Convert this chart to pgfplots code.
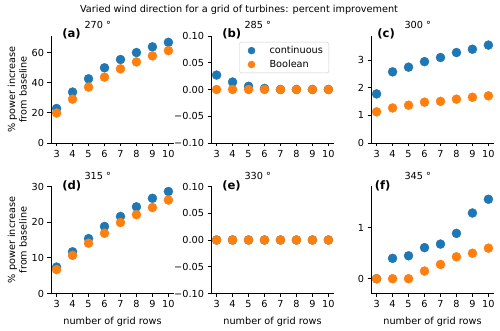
\documentclass[border=0pt]{standalone}
\usepackage{fontspec}
\setmainfont{DejaVu Sans}
\usepackage{pgfplots}
\pgfplotsset{compat=1.18}
\definecolor{mblue}{HTML}{1F77B4}
\definecolor{morange}{HTML}{FF7F0E}
\newcommand{\fs}{\fontsize{9.7}{11.6}\selectfont}
\newcommand{\lab}{\fontsize{11.6}{13}\selectfont\bfseries}

\pgfplotsset{
  panel/.style={
    scale only axis, width=123pt, height=107pt, anchor=south west,
    axis lines=left, axis line style={-, line width=0.8pt, black},
    xmin=2.65, xmax=10.35, xtick={3,...,10},
    tick align=outside, major tick length=3.5pt,
    tick style={line width=0.8pt, black},
    ticklabel style={font=\fs},
    /pgf/number format/assume math mode=true,
    label style={font=\fs},
    xlabel style={yshift=-2pt},
    ylabel style={align=center, yshift=-2pt},
    title style={at={(0.38,1)}, anchor=base, yshift=1pt, font=\fs},
    clip=false,
  },
  cont/.style={only marks, mark=*, mark size=4.5pt, color=mblue},
  bool/.style={only marks, mark=*, mark size=4.5pt, color=morange},
  plusminus/.style={ymin=-0.1, ymax=0.1, ytick={-0.1,-0.05,0,0.05,0.1},
    yticklabels={−0.10,−0.05,0.00,0.05,0.10}},
}

\begin{document}
\begin{tikzpicture}[x=1pt,y=1pt]
\useasboundingbox (0,0) rectangle (500,331);
\node[font=\fs, anchor=base] at (239,318) {Varied wind direction for a grid of turbines: percent improvement};

% (a) 270
\begin{axis}[panel, at={(51pt,188pt)}, ymin=0, ymax=71, ytick={0,20,40,60},
  title={270 °}, ylabel={\% power increase\\from baseline}]
\addplot[cont] coordinates {(3,22.9)(4,33.8)(5,42.6)(6,49.9)(7,55.4)(8,60.0)(9,63.8)(10,66.8)};
\addplot[bool] coordinates {(3,19.9)(4,29.1)(5,37.1)(6,43.7)(7,49.2)(8,53.8)(9,57.8)(10,61.3)};
\node[font=\lab, anchor=west, inner sep=0pt] at (rel axis cs:0.09,1.02) {(a)};
\end{axis}

% (b) 285
\begin{axis}[panel, at={(211pt,188pt)}, plusminus, title={285 °},
  legend style={at={(0.96,0.944)}, anchor=north east, draw=black!20, rounded corners=2pt,
    fill=white, font=\fs, row sep=1pt, inner xsep=4pt, inner ysep=2pt},
  legend cell align=left,
  legend image code/.code={\path[draw=none, fill=none] (0pt,-3pt) rectangle (24pt,3pt);
    \draw[#1, mark size=3.5pt] plot coordinates {(8pt,0pt)};}]
\addplot[cont] coordinates {(3,0.027)(4,0.014)(5,0.006)(6,0.002)(7,0)(8,0)(9,0)(10,0)};
\addlegendentry{continuous}
\addplot[bool] coordinates {(3,0)(4,0)(5,0)(6,0)(7,0)(8,0)(9,0)(10,0)};
\addlegendentry{Boolean}
\node[font=\lab, anchor=west, inner sep=0pt] at (rel axis cs:0.09,1.02) {(b)};
\end{axis}

% (c) 300
\begin{axis}[panel, at={(371pt,188pt)}, ymin=0, ymax=3.88, ytick={0,1,2,3}, title={300 °}]
\addplot[cont] coordinates {(3,1.78)(4,2.58)(5,2.75)(6,2.95)(7,3.10)(8,3.28)(9,3.40)(10,3.55)};
\addplot[bool] coordinates {(3,1.13)(4,1.27)(5,1.37)(6,1.48)(7,1.51)(8,1.59)(9,1.66)(10,1.71)};
\node[font=\lab, anchor=west, inner sep=0pt] at (rel axis cs:0.05,1.02) {(c)};
\end{axis}

% (d) 315
\begin{axis}[panel, at={(51pt,37.5pt)}, ymin=0, ymax=30, ytick={0,10,20,30},
  title={315 °}, ylabel={\% power increase\\from baseline},
  xlabel={number of grid rows}]
\addplot[cont] coordinates {(3,7.4)(4,11.7)(5,15.4)(6,18.8)(7,21.6)(8,24.3)(9,26.7)(10,28.6)};
\addplot[bool] coordinates {(3,6.7)(4,10.7)(5,14.1)(6,16.9)(7,19.9)(8,22.1)(9,24.1)(10,26.2)};
\node[font=\lab, anchor=west, inner sep=0pt] at (rel axis cs:0.09,1.01) {(d)};
\end{axis}

% (e) 330
\begin{axis}[panel, at={(211pt,37.5pt)}, plusminus, title={330 °},
  xlabel={number of grid rows}]
\addplot[cont] coordinates {(3,0)(4,0)(5,0)(6,0)(7,0)(8,0)(9,0)(10,0)};
\addplot[bool] coordinates {(3,0)(4,0)(5,0)(6,0)(7,0)(8,0)(9,0)(10,0)};
\node[font=\lab, anchor=west, inner sep=0pt] at (rel axis cs:0.09,1.01) {(e)};
\end{axis}

% (f) 345
\begin{axis}[panel, at={(371pt,37.5pt)}, ymin=-0.29, ymax=1.81, ytick={0,1}, title={345 °},
  xlabel={number of grid rows}]
\addplot[cont] coordinates {(3,0)(4,0.40)(5,0.45)(6,0.61)(7,0.68)(8,0.89)(9,1.29)(10,1.56)};
\addplot[bool] coordinates {(3,0)(4,0)(5,0)(6,0.15)(7,0.28)(8,0.43)(9,0.50)(10,0.60)};
\node[font=\lab, anchor=west, inner sep=0pt] at (rel axis cs:0.03,1.01) {(f)};
\end{axis}
\end{tikzpicture}
\end{document}
